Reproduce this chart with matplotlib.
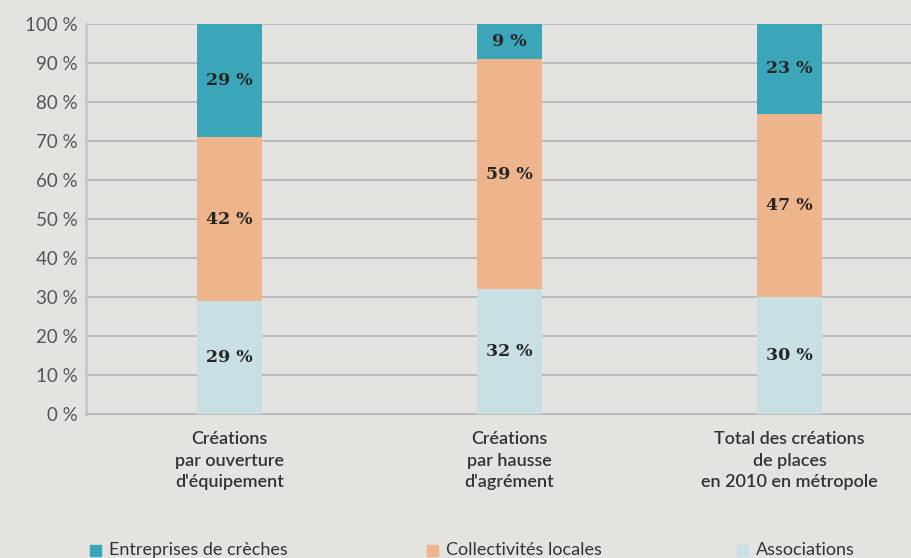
import matplotlib.pyplot as plt
from matplotlib.patches import Rectangle

# Shares of new childcare places by type of operator (%)
categories = ["Créations\npar ouverture\nd'équipement",
              "Créations\npar hausse\nd'agrément",
              "Total des créations\nde places\nen 2010 en métropole"]
associations = [29, 32, 30]
collectivites = [42, 59, 47]
entreprises = [29, 9, 23]
series_names = ["Entreprises de crèches", "Collectivités locales", "Associations"]

col_ent = '#3BA6BA'
col_col = '#EEB48C'
col_ass = '#C8DFE4'
bg = '#E5E3E0'
grid_col = '#B5B4B6'
text_col = '#333333'

fig = plt.figure(figsize=(9.12, 5.58), dpi=100, facecolor=bg)
ax = fig.add_axes([0.0943, 0.258, 0.9057, 0.699])
ax.set_facecolor(bg)

x = [0, 1, 2]
w = 0.232
bottom2 = [a + c for a, c in zip(associations, collectivites)]
ax.bar(x, associations, w, color=col_ass, zorder=3)
ax.bar(x, collectivites, w, bottom=associations, color=col_col, zorder=3)
ax.bar(x, entreprises, w, bottom=bottom2, color=col_ent, zorder=3)

label_font = dict(family='DejaVu Serif', fontweight='bold', fontsize=12.5, color='#262626',
                  ha='center', va='center', zorder=4)
for i in x:
    ax.text(i, associations[i] / 2, f"{associations[i]} %", **label_font)
    ax.text(i, associations[i] + collectivites[i] / 2, f"{collectivites[i]} %", **label_font)
    ax.text(i, bottom2[i] + entreprises[i] / 2, f"{entreprises[i]} %", **label_font)

ax.set_xlim(-0.5125, 2.4375)
ax.set_ylim(0, 100)
ax.set_yticks(range(0, 101, 10))
ax.set_yticklabels([f"{v} %" for v in range(0, 101, 10)], fontsize=13.5,
                   family='Lato', color='#555555')
ax.yaxis.grid(True, color=grid_col, linewidth=1.2, zorder=0)
ax.tick_params(axis='y', length=0, pad=6)
ax.set_xticks(x)
ax.set_xticklabels(categories, fontsize=13, family='Lato', fontweight='semibold',
                   color=text_col, linespacing=1.45)
ax.tick_params(axis='x', length=0, pad=12)
for s in ['top', 'right']:
    ax.spines[s].set_visible(False)
ax.spines['left'].set_color('#C8C7C9')
ax.spines['left'].set_linewidth(2)
ax.spines['bottom'].set_color(grid_col)
ax.spines['bottom'].set_linewidth(1.2)

# legend drawn by hand along the bottom edge
leg_x = [0.0987, 0.468, 0.808]
leg_y = 1 - 550 / 558
sq_w, sq_h = 11 / 912, 11 / 558
for lx, name, c in zip(leg_x, series_names, [col_ent, col_col, col_ass]):
    fig.patches.append(Rectangle((lx, leg_y - sq_h / 2), sq_w, sq_h, color=c,
                                 transform=fig.transFigure, figure=fig))
    fig.text(lx + 19 / 912, leg_y, name, fontsize=13, family='Lato', color=text_col,
             va='center', ha='left')

fig.savefig('out.png', dpi=100, facecolor=bg)
